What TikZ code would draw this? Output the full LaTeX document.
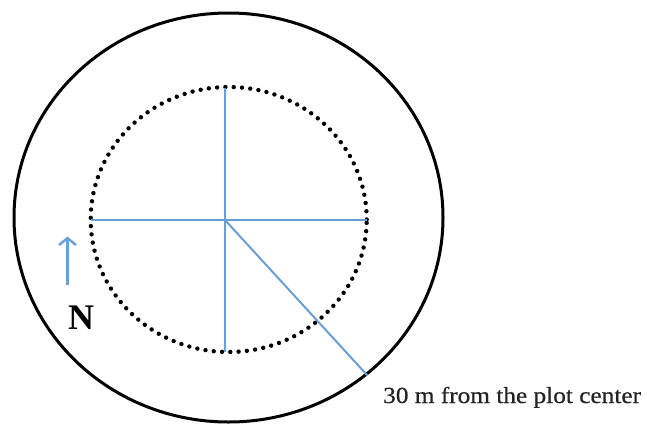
\documentclass[tikz,border=0pt]{standalone}
\usepackage{fontspec}
\setmainfont{Liberation Serif}
\newfontfamily\labelfont[FakeStretch=1.1,FakeBold=0.6]{Liberation Serif}
\usetikzlibrary{arrows.meta}
\definecolor{lineblue}{RGB}{105,158,215}
\definecolor{textgray}{RGB}{35,35,35}
\tikzset{
  plotline/.style={draw=black, line width=3pt},
  dotline/.style={draw=black, line width=4.4pt, line cap=round, dash pattern=on 0pt off 8.3pt},
  transect/.style={draw=lineblue, line width=2pt},
  northarrow/.style={draw=lineblue, line width=2.4pt, -{Straight Barb[length=7pt,width=17pt]}},
}
\begin{document}
\begin{tikzpicture}[x=1pt,y=-1pt]
\useasboundingbox (0,0) rectangle (647,426);
% centres
\coordinate (oc) at (228.5,217.5);
\coordinate (ic) at (228.7,219.5);
% outer plot boundary
\draw[plotline] (oc) ellipse [x radius=214.5pt, y radius=204.5pt];
% inner dotted circle
\draw[dotline] (ic) ellipse [x radius=138pt, y radius=132.5pt];
% transect points
\coordinate (C) at (225,220);
\coordinate (Np) at (225,87.5);
\coordinate (Sp) at (225,352);
\coordinate (Wp) at (90.7,220);
\coordinate (Ep) at (366.7,220);
\coordinate (edge) at (367.5,375.5);
\draw[transect] (Wp) -- (Ep);
\draw[transect] (Np) -- (Sp);
\draw[transect] (C) -- (edge);
% label
\node[anchor=base west, inner sep=0pt, text=textgray, font=\labelfont\fontsize{23}{26}\selectfont] (lbl) at (383,403) {30 m from the plot center};
% north arrow
\coordinate (arrowtail) at (67.5,285);
\coordinate (arrowhead) at (67.5,236.5);
\draw[northarrow] (arrowtail) -- (arrowhead);
\node[inner sep=0pt, font=\bfseries\fontsize{36}{40}\selectfont] (north) at (81,317.5) {N};
\end{tikzpicture}
\end{document}
